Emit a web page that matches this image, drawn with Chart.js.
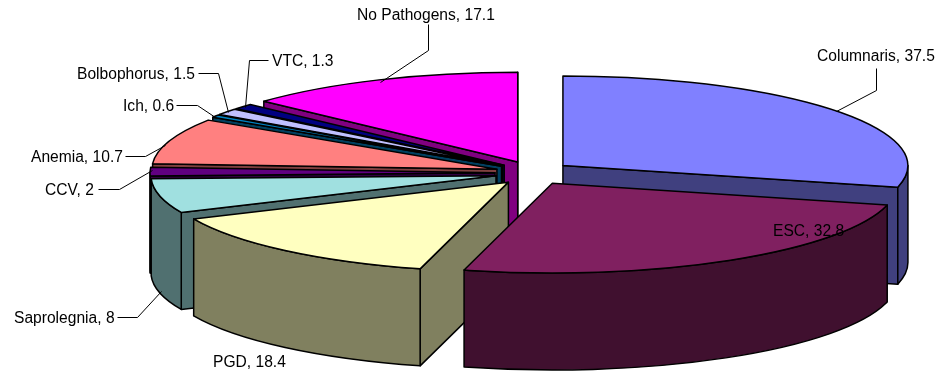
<!DOCTYPE html>
<html>
<head>
<meta charset="utf-8">
<title>Pathogens</title>
<script src="https://cdn.jsdelivr.net/npm/chart.js@4"></script>
<style>
    html, body { margin: 0; padding: 0; background: #fff; }
    #wrap { width: 938px; height: 373px; }
</style>
</head>
<body>
<div id="wrap"><canvas id="myChart"></canvas></div>
<script>
const categories = ['Columnaris', 'ESC', 'PGD', 'Saprolegnia', 'CCV', 'Anemia', 'Ich', 'Bolbophorus', 'VTC', 'No Pathogens'];
const values = [37.5, 32.8, 18.4, 8, 2, 10.7, 0.6, 1.5, 1.3, 17.1];
const topColors = ['#8080FF', '#802060', '#FFFFC0', '#A0E0E0', '#600080', '#FF8080', '#0080C0', '#C0C0FF', '#000080', '#FF00FF'];
const wallColors = ['#40407F', '#40102F', '#80805F', '#507070', '#300040', '#804040', '#004060', '#60607F', '#000040', '#800080'];

// where each label text starts, plus its leader line if it has one
const labelSpots = [
    { x: 817, y: 55, leader: [[876, 68], [876, 90], [836, 111]] },
    { x: 773, y: 230 },
    { x: 213, y: 361 },
    { x: 14, y: 317, leader: [[117, 317], [137, 317], [161, 291]] },
    { x: 45, y: 189, leader: [[98, 189], [119, 189], [152, 170]] },
    { x: 31, y: 156, leader: [[125, 156], [145, 156], [165, 145]] },
    { x: 123, y: 105, leader: [[176, 105], [197, 105], [215, 117]] },
    { x: 77, y: 73, leader: [[198, 73], [218, 73], [228, 112]] },
    { x: 272, y: 60, leader: [[268, 60], [249, 60], [245, 107]] },
    { x: 357, y: 14, leader: [[428, 24], [428, 50], [380, 82]] }
];

const tilt = 0.26;      // vertical squash of the pie disc
const depth = 97;       // height of the walls
const explode = 38;     // how far every slice is pulled out sideways
const explodeY = 12;    // and how far up or down

function norm(a) {
    const t = Math.PI * 2;
    return ((a % t) + t) % t;
}

// outer wall, only the part facing the front (canvas angles 0..PI)
function outerWall(ctx, cx, cy, r, start, end) {
    const s = norm(start);
    let e = s + (end - start);
    const ranges = [[Math.max(s, 0), Math.min(e, Math.PI)], [Math.max(s, Math.PI * 2), Math.min(e, Math.PI * 3)]];
    ranges.forEach(([a, b]) => {
        if (b <= a) return;
        ctx.beginPath();
        ctx.ellipse(cx, cy, r, r * tilt, 0, a, b);
        ctx.ellipse(cx, cy + depth, r, r * tilt, 0, b, a, true);
        ctx.closePath();
        ctx.fill();
        ctx.stroke();
    });
}

function radialWall(ctx, cx, cy, r, angle) {
    const ex = cx + Math.cos(angle) * r;
    const ey = cy + Math.sin(angle) * r * tilt;
    ctx.beginPath();
    ctx.moveTo(cx, cy);
    ctx.lineTo(ex, ey);
    ctx.lineTo(ex, ey + depth);
    ctx.lineTo(cx, cy + depth);
    ctx.closePath();
    ctx.fill();
    ctx.stroke();
}

function drawSlice(ctx, arc, index) {
    const mid = (arc.startAngle + arc.endAngle) / 2;
    const cx = arc.x + Math.cos(mid) * explode;
    const cy = arc.y + Math.sin(mid) * explodeY;
    const r = arc.outerRadius;

    ctx.save();
    ctx.lineWidth = 1.5;
    ctx.lineJoin = 'round';
    ctx.strokeStyle = '#000';
    ctx.fillStyle = wallColors[index];
    // a cut side only shows when it faces the viewer
    if (Math.cos(arc.startAngle) < 0) radialWall(ctx, cx, cy, r, arc.startAngle);
    if (Math.cos(arc.endAngle) > 0) radialWall(ctx, cx, cy, r, arc.endAngle);
    outerWall(ctx, cx, cy, r, arc.startAngle, arc.endAngle);

    // top face comes from the library's own arc, squashed into the tilted plane
    ctx.save();
    ctx.translate(cx, cy);
    ctx.scale(1, tilt);
    ctx.translate(-arc.x, -arc.y);
    arc.draw(ctx);
    ctx.restore();

    ctx.beginPath();
    ctx.moveTo(cx, cy);
    ctx.ellipse(cx, cy, r, r * tilt, 0, arc.startAngle, arc.endAngle);
    ctx.closePath();
    ctx.stroke();
    ctx.restore();
}

const pie3d = {
    id: 'pie3d',
    beforeDatasetDraw(chart, args) {
        const arcs = chart.getDatasetMeta(args.index).data;
        // paint from the back of the disc to the front
        const order = arcs.map((arc, i) => i).sort((a, b) => {
            const ma = (arcs[a].startAngle + arcs[a].endAngle) / 2;
            const mb = (arcs[b].startAngle + arcs[b].endAngle) / 2;
            return Math.sin(ma) - Math.sin(mb);
        });
        order.forEach(i => drawSlice(chart.ctx, arcs[i], i));
        return false;
    },
    afterDatasetsDraw(chart) {
        const ctx = chart.ctx;
        ctx.save();
        ctx.font = '15.6px "Liberation Sans", Arial, sans-serif';
        ctx.textBaseline = 'middle';
        ctx.fillStyle = '#000';
        ctx.strokeStyle = '#000';
        ctx.lineWidth = 1;
        categories.forEach((name, i) => {
            const spot = labelSpots[i];
            ctx.fillText(name + ', ' + values[i], spot.x, spot.y + 1.5);
            if (spot.leader) {
                ctx.beginPath();
                spot.leader.forEach(([x, y], k) => k ? ctx.lineTo(x + 0.5, y + 0.5) : ctx.moveTo(x + 0.5, y + 0.5));
                ctx.stroke();
            }
        });
        ctx.restore();
    }
};

const data = {
    labels: categories,
    datasets: [{
        data: values,
        backgroundColor: topColors,
        borderWidth: 0
    }]
};

const config = {
    type: 'pie',
    data: data,
    options: {
        responsive: true,
        maintainAspectRatio: false,
        animation: false,
        radius: 345,
        layout: { padding: { left: 128, bottom: 27 } },
        plugins: {
            legend: { display: false },
            tooltip: { enabled: false }
        }
    },
    plugins: [pie3d]
};

const myChart = new Chart(document.getElementById('myChart'), config);
</script>
</body>
</html>
